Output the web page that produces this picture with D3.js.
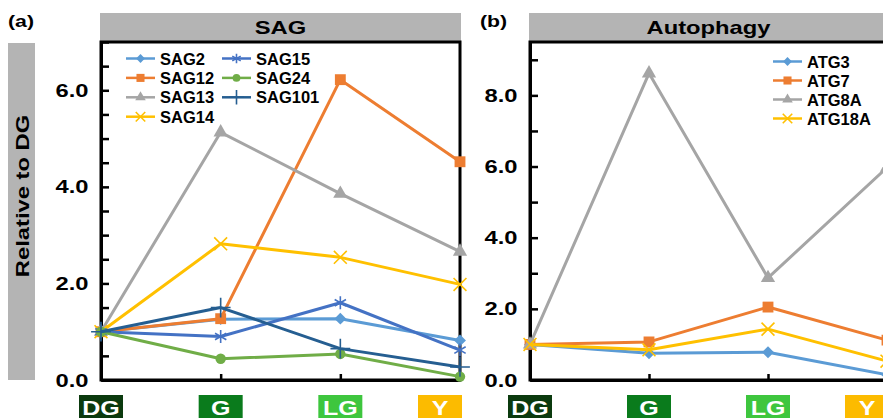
<!DOCTYPE html>
<html>
<head>
<meta charset="utf-8">
<script src="https://cdn.jsdelivr.net/npm/d3@7"></script>
<style>
  body { margin: 0; background: #fff; }
  svg { display: block; font-family: "Liberation Sans", Arial, sans-serif; font-weight: bold; }
</style>
</head>
<body>
<svg id="chart" width="883" height="418"></svg>
<script>
// growth stages on the x axis
var stages = ["DG", "G", "LG", "Y"];
var stageColors = ["#0b3a0e", "#0a7b1c", "#3ec63e", "#fcbb00"];

// panel (a) SAG genes
var sagNames = ["SAG2", "SAG12", "SAG13", "SAG14", "SAG15", "SAG24", "SAG101"];
var sagValues = [
    [1.0, 1.26, 1.27, 0.82],
    [1.0, 1.27, 6.22, 4.52],
    [1.0, 5.13, 3.86, 2.66],
    [1.0, 2.82, 2.54, 1.98],
    [1.0, 0.90, 1.60, 0.62],
    [1.0, 0.44, 0.54, 0.07],
    [1.0, 1.50, 0.65, 0.27]
];
var sagMajorTicks = [0, 2, 4, 6];

// panel (b) autophagy genes
var atgNames = ["ATG3", "ATG7", "ATG8A", "ATG18A"];
var atgValues = [
    [1.0, 0.75, 0.78, 0.15],
    [1.0, 1.07, 2.05, 1.12],
    [1.0, 8.62, 2.87, 5.97],
    [1.0, 0.85, 1.43, 0.53]
];
var atgMajorTicks = [0, 2, 4, 6, 8];

var seriesColors = ["#5b9bd5", "#ed7d31", "#a5a5a5", "#ffc000", "#4472c4", "#70ad47", "#255e91"];
var seriesSymbols = ["diamond", "square", "triangle", "times", "asterisk", "circle", "plus"];

var STRETCH = 1.25; // the figure's text is wider than plain Arial
var svg = d3.select("#chart");

function symbolPath(kind, k) {
    var map = {
        diamond: [d3.symbolDiamond2, 90],
        square: [d3.symbolSquare, 118],
        triangle: [d3.symbolTriangle, 88],
        circle: [d3.symbolCircle, 85],
        times: [d3.symbolTimes, 110],
        asterisk: [d3.symbolAsterisk, 120],
        plus: [d3.symbolPlus, 130]
    };
    var m = map[kind];
    return d3.symbol().type(m[0]).size(m[1] * k)();
}
function isStroke(kind) {
    return kind == "times" || kind == "asterisk" || kind == "plus";
}

function addMarker(g, kind, color, x, y, k) {
    g.append("path")
        .attr("d", symbolPath(kind, k))
        .attr("transform", "translate(" + x + "," + y + ")")
        .style("fill", isStroke(kind) ? "none" : color)
        .style("stroke", color)
        .style("stroke-width", isStroke(kind) ? 1.6 : 0);
}

function wideText(g, str, x, y, size, anchor, rot) {
    return g.append("text")
        .attr("transform", "translate(" + x + "," + y + ")" + (rot ? " rotate(" + rot + ")" : "") + " scale(" + STRETCH + ",1)")
        .attr("text-anchor", anchor)
        .style("font-size", size + "px")
        .text(str);
}

function drawPanel(cfg) {
    var g = svg.append("g").attr("id", cfg.id);

    var x = d3.scalePoint().domain(stages).range([cfg.left, cfg.right]);
    var y = d3.scaleLinear().domain([0, cfg.ymax]).range([380, 42]);

    // panel letter and grey title bar
    wideText(g, cfg.letter, cfg.letterX, 27, 17, "start");
    g.append("rect")
        .attr("x", cfg.left - 1).attr("y", 13)
        .attr("width", cfg.right - cfg.left + 2).attr("height", 28)
        .style("fill", "#b4b4b4");
    wideText(g, cfg.title, (cfg.left + cfg.right) / 2, 34, 19, "middle");

    // frame (top and right border)
    g.append("rect")
        .attr("x", cfg.left).attr("y", y(cfg.ymax))
        .attr("width", cfg.right - cfg.left).attr("height", y(0) - y(cfg.ymax))
        .style("fill", "none").style("stroke", "#000").style("stroke-width", 3);

    // y axis: minor ticks every step, labels on majors
    var tickVals = d3.range(0, cfg.ymax + 0.001, cfg.minor);
    var yAxis = d3.axisLeft(y)
        .tickValues(tickVals)
        .tickSizeInner(-8).tickSizeOuter(0)
        .tickPadding(10)
        .tickFormat(function(d) {
            return cfg.majors.indexOf(d) >= 0 ? d.toFixed(1) : "";
        });
    var ya = g.append("g").attr("transform", "translate(" + cfg.left + ",0)").call(yAxis);
    ya.select(".domain").style("stroke-width", 3);
    ya.selectAll(".tick line").style("stroke-width", 2.5);
    ya.selectAll(".tick text")
        .attr("transform", "scale(" + STRETCH + ",1)")
        .style("font-size", "19px").style("font-family", "Liberation Sans, Arial, sans-serif")
        .style("font-weight", "bold").style("fill", "#000");

    // x axis ticks, no labels
    var xAxis = d3.axisBottom(x).tickSizeInner(-6).tickSizeOuter(0).tickFormat("");
    var xa = g.append("g").attr("transform", "translate(0," + y(0) + ")").call(xAxis);
    xa.select(".domain").style("stroke-width", 3);
    xa.selectAll(".tick line").style("stroke-width", 2.5);

    // stage boxes under the axis
    var boxW = 44;
    stages.forEach(function(s, i) {
        var bx = Math.min(x(s) - boxW / 2, cfg.right + 2 - boxW);
        g.append("rect")
            .attr("x", bx).attr("y", 395)
            .attr("width", boxW).attr("height", 26)
            .style("fill", stageColors[i]);
        wideText(g, s, bx + boxW / 2, 415, 20, "middle").style("fill", "#fff");
    });

    // series lines and markers
    var line = d3.line()
        .x(function(d, i) { return x(stages[i]); })
        .y(function(d) { return y(d); });

    cfg.values.forEach(function(vals, si) {
        var col = seriesColors[si];
        g.append("path")
            .datum(vals)
            .attr("d", line)
            .style("fill", "none")
            .style("stroke", col)
            .style("stroke-width", 3)
            .style("stroke-linejoin", "round");
        vals.forEach(function(v, i) {
            addMarker(g, seriesSymbols[si], col, x(stages[i]), y(v), 1);
        });
    });

    // legend
    cfg.names.forEach(function(name, si) {
        var pos = cfg.legendPos(si);
        var col = seriesColors[si];
        g.append("line")
            .attr("x1", pos[0]).attr("x2", pos[0] + 29)
            .attr("y1", pos[1]).attr("y2", pos[1])
            .style("stroke", col).style("stroke-width", 2.5);
        addMarker(g, seriesSymbols[si], col, pos[0] + 14.5, pos[1], 0.55);
        g.append("text")
            .attr("x", pos[0] + 34).attr("y", pos[1] + 6)
            .style("font-size", "16.5px")
            .text(name);
    });

    return g;
}

// y axis title box (shared)
svg.append("rect")
    .attr("x", 8).attr("y", 43).attr("width", 27).attr("height", 337)
    .style("fill", "#b4b4b4");
wideText(svg, "Relative to DG", 29, 196, 19, "middle", -90);

drawPanel({
    id: "sag", letter: "(a)", letterX: 8, title: "SAG",
    left: 101, right: 460, ymax: 7, minor: 0.5, majors: sagMajorTicks,
    names: sagNames, values: sagValues,
    legendPos: function(i) {
        return i < 4 ? [126, 58.5 + i * 19.4] : [222, 58.5 + (i - 4) * 19.4];
    }
});

drawPanel({
    id: "atg", letter: "(b)", letterX: 480, title: "Autophagy",
    left: 530, right: 887, ymax: 9.5, minor: 1, majors: atgMajorTicks,
    names: atgNames, values: atgValues,
    legendPos: function(i) { return [773, 61.5 + i * 19]; }
});
</script>
</body>
</html>
